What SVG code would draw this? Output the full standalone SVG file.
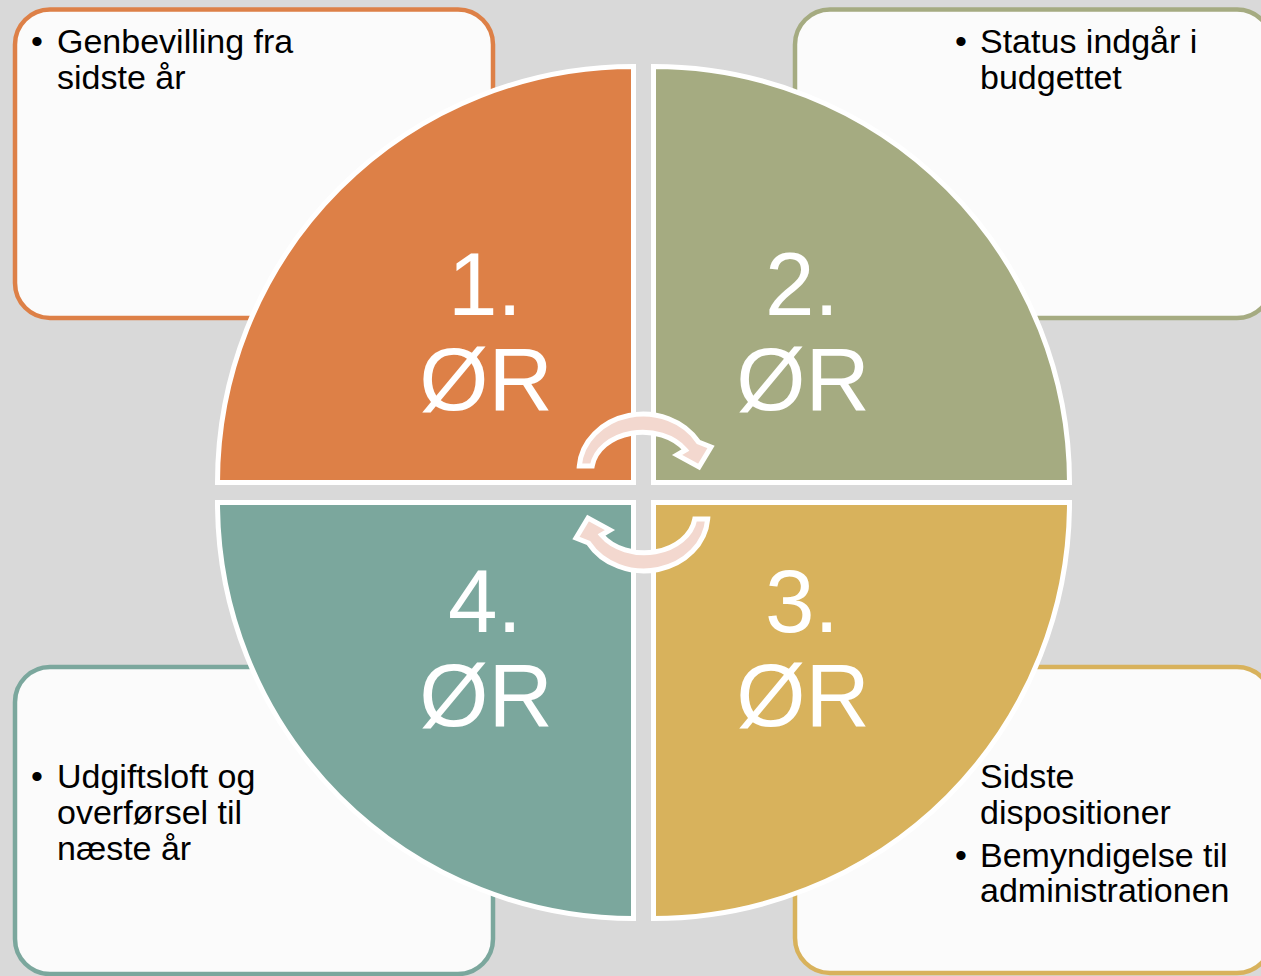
<svg xmlns="http://www.w3.org/2000/svg" width="1261" height="976" viewBox="0 0 1261 976">
<style>
.box{fill:#FBFBFB;stroke-width:4.5}
.q{stroke:#FFFFFF;stroke-width:5}
.t{font-family:"Liberation Sans",Arial,sans-serif;font-size:34px;fill:#000000}
.n{font-family:"Liberation Sans",Arial,sans-serif;font-size:89px;fill:#FFFFFF;text-anchor:middle}
.arr{fill:#F3D8CF;stroke:#FFFFFF;stroke-width:5;stroke-linejoin:miter}
</style>
<rect x="0" y="0" width="1261" height="976" fill="#D9D9D9"/>
<g id="box1">
<rect class="box" x="15" y="9.5" width="478" height="308.5" rx="35" stroke="#DD8047"/>
<text class="t" x="31" y="53">•</text>
<text class="t" x="57" y="53">Genbevilling fra</text>
<text class="t" x="57" y="89">sidste år</text>
</g>
<g id="box2">
<rect class="box" x="795" y="9.5" width="477" height="308.5" rx="35" stroke="#A5AB81"/>
<text class="t" x="955" y="53">•</text>
<text class="t" x="980" y="53">Status indgår i</text>
<text class="t" x="980" y="89">budgettet</text>
</g>
<g id="box3">
<rect class="box" x="795" y="667" width="477" height="306" rx="35" stroke="#D8B25C"/>
<text class="t" x="980" y="788">Sidste</text>
<text class="t" x="980" y="824">dispositioner</text>
<text class="t" x="955" y="867">•</text>
<text class="t" x="980" y="867">Bemyndigelse til</text>
<text class="t" x="980" y="902">administrationen</text>
</g>
<g id="box4">
<rect class="box" x="15" y="667" width="478" height="307" rx="35" stroke="#7BA79D"/>
<text class="t" x="31" y="788">•</text>
<text class="t" x="57" y="788">Udgiftsloft og</text>
<text class="t" x="57" y="824">overførsel til</text>
<text class="t" x="57" y="860">næste år</text>
</g>
<g id="q1">
<path class="q" fill="#DD8047" d="M633.5 482.5 L217.5 482.5 A416 416 0 0 1 633.5 66.5 Z"/>
<text class="n" x="485" y="315">1.</text>
<text class="n" x="486" y="410">ØR</text>
</g>
<g id="q2">
<path class="q" fill="#A5AB81" d="M653.5 482.5 L653.5 66.5 A416 416 0 0 1 1069.5 482.5 Z"/>
<text class="n" x="802" y="315">2.</text>
<text class="n" x="803" y="410">ØR</text>
</g>
<g id="q3">
<path class="q" fill="#D8B25C" d="M653.5 502.5 L1069.5 502.5 A416 416 0 0 1 653.5 918.5 Z"/>
<text class="n" x="802" y="632">3.</text>
<text class="n" x="803" y="726">ØR</text>
</g>
<g id="q4">
<path class="q" fill="#7BA79D" d="M633.5 502.5 L633.5 918.5 A416 416 0 0 1 217.5 502.5 Z"/>
<text class="n" x="485" y="632">4.</text>
<text class="n" x="486" y="726">ØR</text>
</g>
<g id="connectors">
<path id="arrowTop" class="arr" d="M579.3 466 A64 56 0 0 1 698.5 442 L711 447 L699 467 L677 455 L685.5 450 A51 39 0 0 0 592.2 466 Z"/>
<path id="arrowBottom" class="arr" transform="rotate(180 643.5 492.5)" d="M579.3 466 A64 56 0 0 1 698.5 442 L711 447 L699 467 L677 455 L685.5 450 A51 39 0 0 0 592.2 466 Z"/>
</g>
</svg>
